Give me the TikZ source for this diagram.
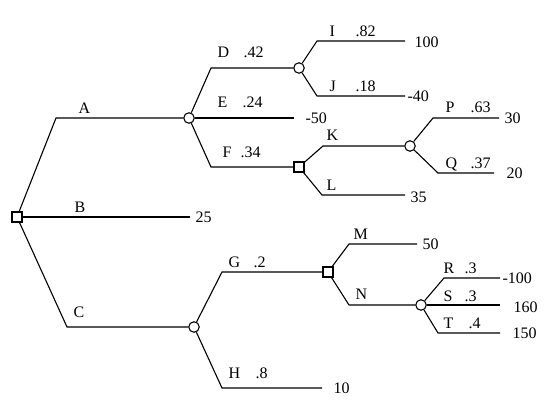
\documentclass[tikz,border=0pt]{standalone}
\usepackage{fontspec}
\setmainfont{Liberation Serif}
\begin{document}
\begin{tikzpicture}[x=1pt,y=-1pt, line width=1.1pt,
  chance/.style={circle,draw,fill=white,minimum size=10.5pt,inner sep=0pt},
  decision/.style={rectangle,draw,fill=white,minimum size=10pt,inner sep=0pt},
  lbl/.style={anchor=base west,inner sep=0pt,font=\fontsize{16}{19}\selectfont},
  val/.style={anchor=west,inner sep=0pt,font=\fontsize{16}{19}\selectfont}]
\useasboundingbox (0,0) rectangle (558,413);
% decision and chance nodes
\node[decision] (root) at (17,217) {};
\node[chance] (cA) at (189,118) {};
\node[chance] (cD) at (299,68) {};
\node[decision] (dF) at (299,167) {};
\node[chance] (cK) at (410,146) {};
\node[chance] (cC) at (194,327) {};
\node[decision] (dG) at (328,272) {};
\node[chance] (cN) at (421,305) {};
% bends and ends
\coordinate (bA) at (56,118);
\coordinate (bC) at (67,327);
\coordinate (eB) at (190,217);
\coordinate (bD) at (211,68);
\coordinate (eE) at (294,118);
\coordinate (bF) at (211,167);
\coordinate (bI) at (317,41);
\coordinate (eI) at (405,41);
\coordinate (bJ) at (317,96);
\coordinate (eJ) at (405,96);
\coordinate (bK) at (323,146);
\coordinate (bL) at (322,195);
\coordinate (eL) at (405,195);
\coordinate (bP) at (433,118);
\coordinate (eP) at (499,118);
\coordinate (bQ) at (438,173);
\coordinate (eQ) at (494,173);
\coordinate (bG) at (222,272);
\coordinate (bH) at (222,388);
\coordinate (eH) at (322,388);
\coordinate (bM) at (349,244);
\coordinate (eM) at (417,244);
\coordinate (bN) at (349,305);
\coordinate (bR) at (444,278);
\coordinate (eR) at (500,278);
\coordinate (eS) at (500,305);
\coordinate (bT) at (438,333);
\coordinate (eT) at (500,333);
% branches
\draw (root) -- (bA) -- (cA);
\draw (root) -- (eB);
\draw (root) -- (bC) -- (cC);
\draw (cA) -- (bD) -- (cD);
\draw (cA) -- (eE);
\draw (cA) -- (bF) -- (dF);
\draw (cD) -- (bI) -- (eI);
\draw (cD) -- (bJ) -- (eJ);
\draw (dF) -- (bK) -- (cK);
\draw (dF) -- (bL) -- (eL);
\draw (cK) -- (bP) -- (eP);
\draw (cK) -- (bQ) -- (eQ);
\draw (cC) -- (bG) -- (dG);
\draw (cC) -- (bH) -- (eH);
\draw (dG) -- (bM) -- (eM);
\draw (dG) -- (bN) -- (cN);
\draw (cN) -- (bR) -- (eR);
\draw (cN) -- (eS);
\draw (cN) -- (bT) -- (eT);
% branch labels
\node[lbl] (lA) at (78,113) {A};
\node[lbl] (lB) at (74,212) {B};
\node[lbl] (lC) at (73,317) {C};
\node[lbl] (lD) at (217,57) {D};
\node[lbl] (pD) at (243,57) {.42};
\node[lbl] (lE) at (217,107) {E};
\node[lbl] (pE) at (242,107) {.24};
\node[lbl] (lF) at (222,157) {F};
\node[lbl] (pF) at (240,157) {.34};
\node[lbl] (lI) at (329,36) {I};
\node[lbl] (pI) at (355,36) {.82};
\node[lbl] (lJ) at (329,91) {J};
\node[lbl] (pJ) at (355,91) {.18};
\node[lbl] (lK) at (326,140) {K};
\node[lbl] (lL) at (326,190) {L};
\node[lbl] (lP) at (445,112) {P};
\node[lbl] (pP) at (470,112) {.63};
\node[lbl] (lQ) at (445,168) {Q};
\node[lbl] (pQ) at (470,168) {.37};
\node[lbl] (lG) at (228,267) {G};
\node[lbl] (pG) at (253,267) {.2};
\node[lbl] (lH) at (228,378) {H};
\node[lbl] (pH) at (255,378) {.8};
\node[lbl] (lM) at (353,239) {M};
\node[lbl] (lN) at (355,299) {N};
\node[lbl] (lR) at (443,273) {R};
\node[lbl] (pR) at (464,273) {.3};
\node[lbl] (lS) at (443,301) {S};
\node[lbl] (pS) at (464,301) {.3};
\node[lbl] (lT) at (443,328) {T};
\node[lbl] (pT) at (468,328) {.4};
% payoffs
\node[val] (vI) at (414,42) {100};
\node[val] (vJ) at (407,96) {-40};
\node[val] (vE) at (305,118) {-50};
\node[val] (vL) at (410,197) {35};
\node[val] (vP) at (504,118) {30};
\node[val] (vQ) at (506,173) {20};
\node[val] (vB) at (195,217) {25};
\node[val] (vH) at (333,388) {10};
\node[val] (vM) at (422,244) {50};
\node[val] (vR) at (502,278) {-100};
\node[val] (vS) at (513,307) {160};
\node[val] (vT) at (512,333) {150};
\end{tikzpicture}
\end{document}
